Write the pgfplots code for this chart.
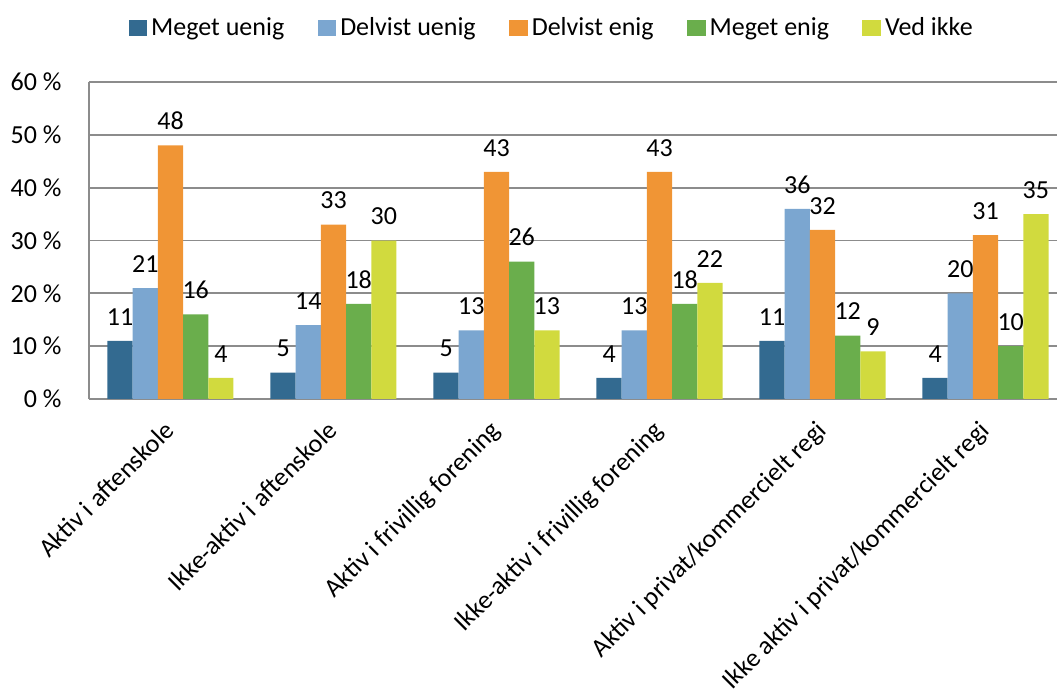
\documentclass[border=0pt]{standalone}
\usepackage{pgfplots}
\pgfplotsset{compat=1.18}
\usepackage{fontspec}
\setmainfont{Carlito}

\definecolor{cA}{HTML}{336A90}
\definecolor{cB}{HTML}{7BA6D0}
\definecolor{cC}{HTML}{F09535}
\definecolor{cD}{HTML}{6AAE4C}
\definecolor{cE}{HTML}{D1DA3E}
\definecolor{axgray}{HTML}{8C8C8C}

% spacing inside the legend entries
\newcommand{\pre}{\kern3pt}
\newcommand{\gap}{\kern25pt}

\begin{document}
\begin{tikzpicture}
\fontsize{19.5}{23}\selectfont
% page = 1057x698 px at 0.75pt per px, plot area corner at (0,0)
\useasboundingbox (-66.75pt,-224.25pt) rectangle (726pt,299.25pt);
\begin{axis}[
  at={(0,0)}, anchor=south west,
  scale only axis, width=733.5pt, height=237.75pt,
  ybar=0pt, bar width=18.9pt,
  xmin=-0.5, xmax=5.5, ymin=0, ymax=60,
  axis x line*=bottom, axis y line*=left,
  axis line style={draw=axgray, line width=1.3pt, -},
  ytick={0,10,...,60},
  yticklabel={\pgfmathprintnumber{\tick}~\%},
  yticklabel style={xshift=-14pt},
  ytick style={draw=none},
  ymajorgrids, grid style={draw=axgray, line width=1.3pt},
  xtick={0,...,5},
  xtick style={draw=none},
  xticklabels={Aktiv i aftenskole, Ikke-aktiv i aftenskole, Aktiv i frivillig forening,
    Ikke-aktiv i frivillig forening, Aktiv i privat/kommercielt regi,
    Ikke aktiv i privat/kommercielt regi},
  xticklabel style={rotate=45, anchor=north east, inner sep=0pt, xshift=-11.6pt, yshift=-3.5pt},
  extra x ticks={-0.5,0.5,...,5.5},
  extra x tick labels={},
  extra x tick style={grid=none, tick align=outside, major tick length=6pt,
    tick style={draw=axgray, line width=1.3pt}},
  /pgf/number format/assume math mode=true,
  tick label style={font=\fontsize{19.5}{23}\selectfont, text=black},
  nodes near coords,
  nodes near coords style={font=\fontsize{19.5}{23}\selectfont, yshift=5pt},
  legend columns=-1,
  legend style={at={(0.472,1.17)}, anchor=center, draw=none,
    font=\fontsize{19.5}{23}\selectfont,
    nodes={inner sep=0pt}},
  legend image code/.code={\fill[#1] (0pt,-6pt) rectangle (14pt,6pt);},
]
\addplot[fill=cA, draw=none] coordinates {(0,11) (1,5) (2,5) (3,4) (4,11) (5,4)};
\addplot[fill=cB, draw=none] coordinates {(0,21) (1,14) (2,13) (3,13) (4,36) (5,20)};
\addplot[fill=cC, draw=none] coordinates {(0,48) (1,33) (2,43) (3,43) (4,32) (5,31)};
\addplot[fill=cD, draw=none] coordinates {(0,16) (1,18) (2,26) (3,18) (4,12) (5,10)};
\addplot[fill=cE, draw=none] coordinates {(0,4) (1,30) (2,13) (3,22) (4,9) (5,35)};
\legend{\pre Meget uenig\gap, \pre Delvist uenig\gap, \pre Delvist enig\gap,
  \pre Meget enig\gap, \pre Ved ikke}
\end{axis}
\end{tikzpicture}
\end{document}
